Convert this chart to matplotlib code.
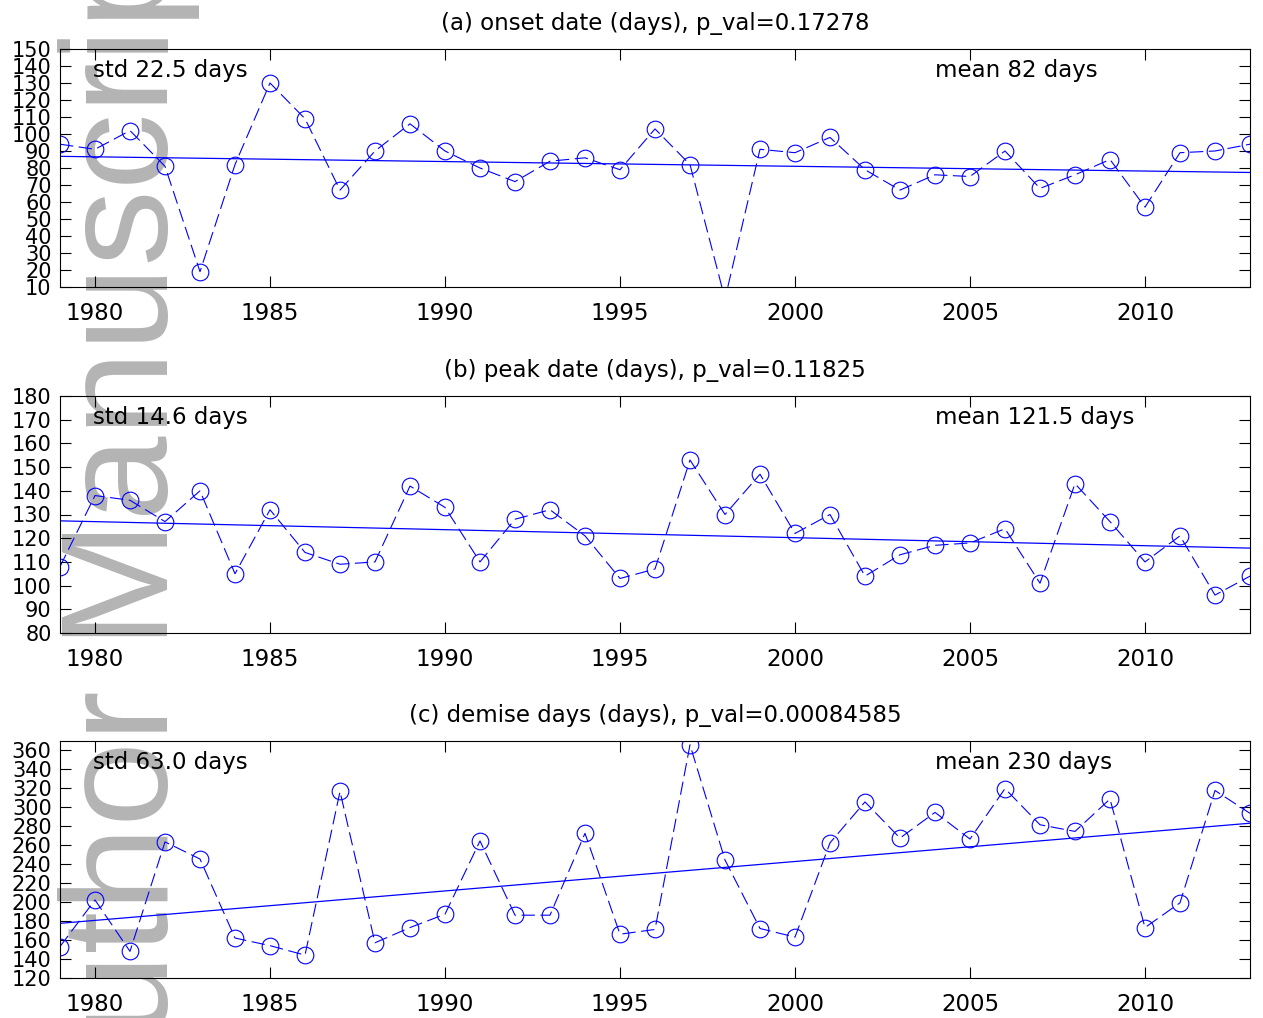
import numpy as np
import matplotlib.pyplot as plt

years = np.arange(1979, 2014)

onset = [94, 91, 102, 81, 19, 82, 130, 109, 67, 90, 106, 90, 80, 72, 84, 86, 79,
         103, 82, 3, 91, 89, 98, 79, 67, 76, 75, 90, 68, 76, 85, 57, 89, 90, 94]
peak = [108, 138, 136, 127, 140, 105, 132, 114, 109, 110, 142, 133, 110, 128, 132, 121, 103,
        107, 153, 130, 147, 122, 130, 104, 113, 117, 118, 124, 101, 143, 127, 110, 121, 96, 104]
demise = [153, 202, 148, 263, 245, 162, 154, 144, 316, 157, 173, 187, 264, 186, 186, 272, 166,
          171, 365, 244, 172, 163, 262, 305, 267, 294, 266, 319, 281, 274, 308, 173, 199, 317, 293]

titles = ["(a) onset date (days), p_val=0.17278",
          "(b) peak date (days), p_val=0.11825",
          "(c) demise days (days), p_val=0.00084585"]
std_labels = ["std 22.5 days", "std 14.6 days", "std 63.0 days"]
mean_labels = ["mean 82 days", "mean 121.5 days", "mean 230 days"]
ylims = [(10, 150), (80, 180), (120, 369)]
yticks = [np.arange(10, 151, 10), np.arange(80, 181, 10), np.arange(120, 361, 20)]
xticks = np.arange(1980, 2011, 5)

W, H = 1263, 1018
fig = plt.figure(figsize=(W / 100, H / 100), dpi=100)

# watermark behind everything
fig.text(168 / W, -122 / H, "Author Manuscript", rotation=90, rotation_mode="anchor",
         ha="left", va="baseline", fontsize=110, family="Liberation Sans",
         color="#b4b4b4", zorder=-1)

# axes boxes in pixels: (top, bottom)
boxes = [(49, 287), (396, 633), (741, 978)]
left, right = 60, 1250

for k, series in enumerate([onset, peak, demise]):
    top, bot = boxes[k]
    ax = fig.add_axes([left / W, 1 - bot / H, (right - left) / W, (bot - top) / H])
    ax.patch.set_alpha(0)
    y = np.array(series, dtype=float)
    ax.plot(years, y, "--o", color="b", lw=0.8, dashes=(12, 5), ms=12,
            mfc="none", mec="b", mew=0.8)
    coef = np.polyfit(years, y, 1)
    ax.plot(years, np.polyval(coef, years), "-", color="b", lw=0.9)
    ax.set_xlim(1979, 2013)
    ax.set_ylim(*ylims[k])
    ax.set_xticks(xticks)
    ax.set_yticks(yticks[k])
    ax.tick_params(direction="in", length=8, width=0.8, top=True, right=True)
    ax.tick_params(axis="x", labelsize=16.5, pad=11)
    ax.tick_params(axis="y", labelsize=15, pad=6)
    ax.set_title(titles[k], fontsize=16.5, pad=14)
    ax.text(0.028, 0.91, std_labels[k], transform=ax.transAxes, fontsize=16.5, va="center")
    ax.text(0.735, 0.91, mean_labels[k], transform=ax.transAxes, fontsize=16.5, va="center")

fig.savefig("out.png", dpi=100)
